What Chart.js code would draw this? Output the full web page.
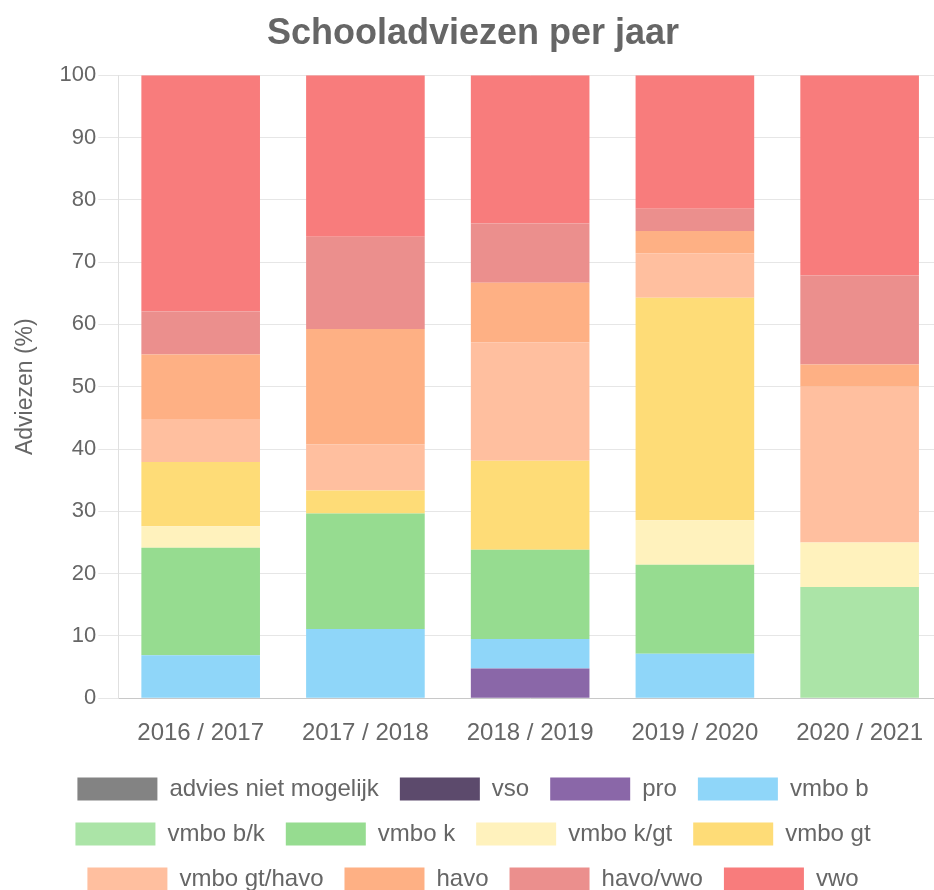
<!DOCTYPE html>
<html lang="nl">
<head>
    <meta charset="UTF-8">
    <title>Schooladviezen per jaar</title>
    <script src="https://cdn.jsdelivr.net/npm/chart.js"></script>
    <style>
        body {
            margin: 0;
            background-color: #ffffff;
            overflow: hidden;
        }
        .container {
            width: 948px;
            height: 901px;
        }
    </style>
</head>
<body>
    <div class="container">
        <canvas id="myChart"></canvas>
    </div>

    <script>
        // Schooljaren
        const jaren = ['2016 / 2017', '2017 / 2018', '2018 / 2019', '2019 / 2020', '2020 / 2021'];

        // Percentage adviezen per type, per jaar
        const adviesNietMogelijk = [0, 0, 0, 0, 0];
        const vso = [0, 0, 0, 0, 0];
        const pro = [0, 0, 4.76, 0, 0];
        const vmboB = [6.90, 11.11, 4.76, 7.14, 0];
        const vmboBK = [0, 0, 0, 0, 17.86];
        const vmboK = [17.24, 18.52, 14.29, 14.29, 0];
        const vmboKGt = [3.45, 0, 0, 7.14, 7.14];
        const vmboGt = [10.34, 3.70, 14.29, 35.71, 0];
        const vmboGtHavo = [6.90, 7.41, 19.05, 7.14, 25.00];
        const havo = [10.34, 18.52, 9.52, 3.57, 3.57];
        const havoVwo = [6.90, 14.81, 9.52, 3.57, 14.29];
        const vwo = [37.93, 25.93, 23.81, 21.43, 32.14];

        const yTicks = [0, 10, 20, 30, 40, 50, 60, 70, 80, 90, 100];

        const series = [
            ['advies niet mogelijk', adviesNietMogelijk, '#838383'],
            ['vso', vso, '#5c4a6c'],
            ['pro', pro, '#8a67a8'],
            ['vmbo b', vmboB, '#8fd6f9'],
            ['vmbo b/k', vmboBK, '#abe4a7'],
            ['vmbo k', vmboK, '#96dc90'],
            ['vmbo k/gt', vmboKGt, '#fff2bd'],
            ['vmbo gt', vmboGt, '#fedc77'],
            ['vmbo gt/havo', vmboGtHavo, '#ffbf9f'],
            ['havo', havo, '#feb084'],
            ['havo/vwo', havoVwo, '#eb8f8d'],
            ['vwo', vwo, '#f87c7c']
        ];

        const datasets = series.map(s => ({
            label: s[0],
            data: s[1],
            backgroundColor: s[2],
            borderColor: s[2],
            borderWidth: 0
        }));

        const grijs = '#666666';
        const lettertype = 'Liberation Sans, Arial, sans-serif';

        new Chart(document.getElementById('myChart').getContext('2d'), {
            type: 'bar',
            data: {
                labels: jaren,
                datasets: datasets
            },
            options: {
                responsive: true,
                maintainAspectRatio: false,
                animation: false,
                layout: { padding: { left: 4, right: 6, top: 0, bottom: 0 } },
                plugins: {
                    title: {
                        display: true,
                        text: 'Schooladviezen per jaar',
                        color: grijs,
                        font: { family: lettertype, size: 36, weight: 'bold' },
                        padding: { top: 12, bottom: 20 }
                    },
                    legend: {
                        position: 'bottom',
                        labels: {
                            color: grijs,
                            boxWidth: 80,
                            boxHeight: 23,
                            padding: 21,
                            font: { family: lettertype, size: 24 }
                        }
                    },
                    tooltip: { enabled: false }
                },
                scales: {
                    x: {
                        stacked: true,
                        grid: { display: false },
                        border: { color: '#c8c8c8' },
                        // iets minder ruimte onder de labels, zodat de as lager komt
                        afterFit: scale => { scale.height -= 5; },
                        ticks: {
                            color: grijs,
                            padding: 13,
                            font: { family: lettertype, size: 24 }
                        }
                    },
                    y: {
                        stacked: true,
                        min: 0,
                        max: 100,
                        afterBuildTicks: axis => { axis.ticks = yTicks.map(v => ({ value: v })); },
                        grid: { color: '#e6e6e6', tickLength: 20 },
                        border: { color: '#e0e0e0' },
                        ticks: {
                            color: grijs,
                            padding: 2,
                            font: { family: lettertype, size: 22 }
                        },
                        title: {
                            display: true,
                            text: 'Adviezen (%)',
                            color: grijs,
                            font: { family: lettertype, size: 23 },
                            padding: { top: 8, bottom: 18 }
                        }
                    }
                }
            }
        });
    </script>
</body>
</html>
